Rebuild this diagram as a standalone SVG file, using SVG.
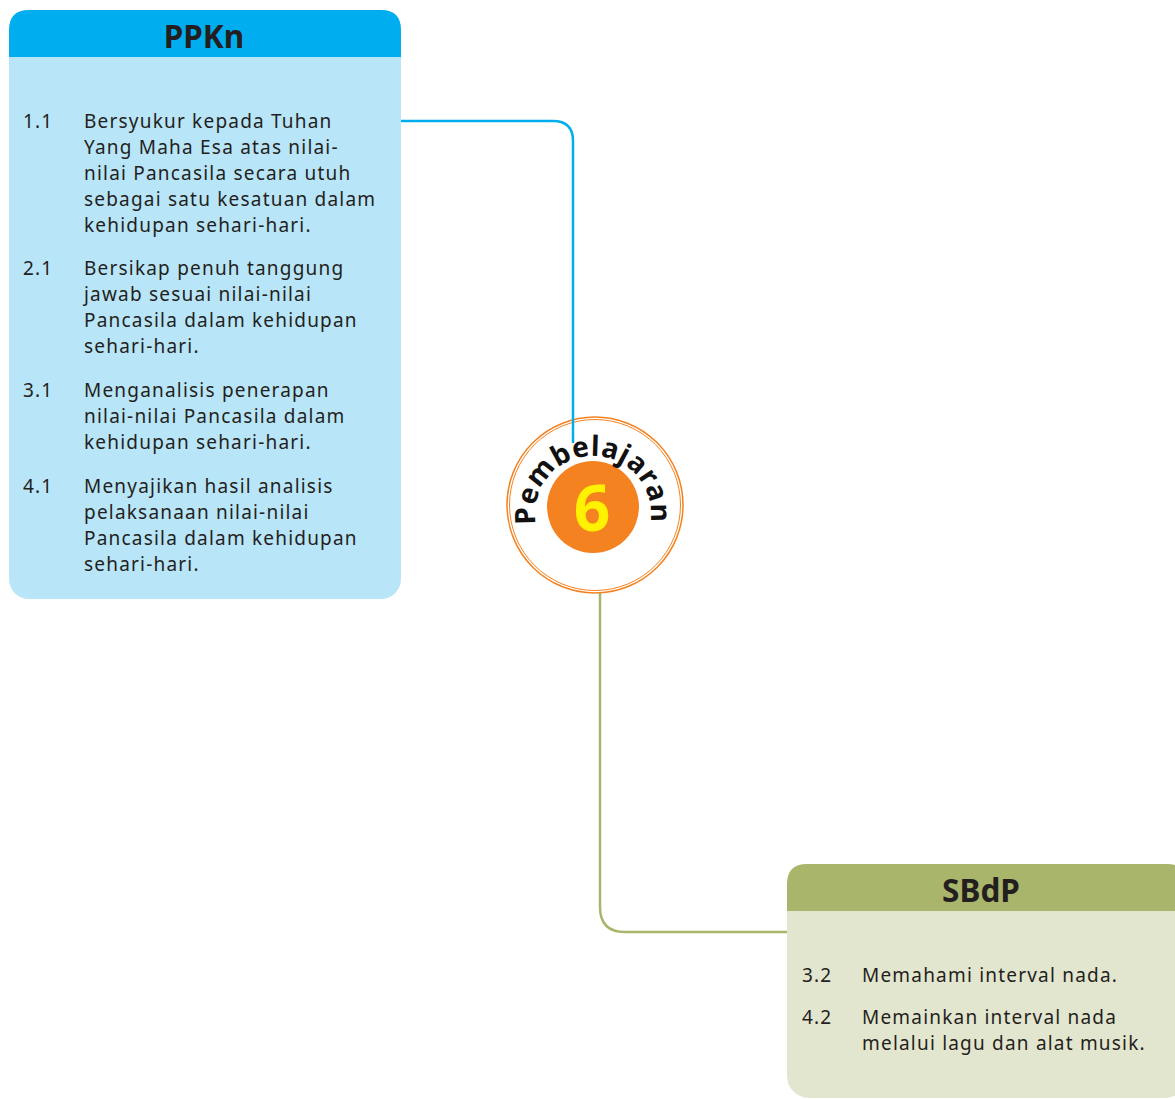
<svg xmlns="http://www.w3.org/2000/svg" width="1175" height="1099" viewBox="0 0 1175 1099">
<style>
.t{font-family:"Noto Sans","Open Sans",sans-serif;font-size:19px;letter-spacing:1.2px;fill:#231f20}
.h{font-family:"Noto Sans","Open Sans",sans-serif;font-size:31.5px;font-weight:bold;fill:#231f20;text-anchor:middle}
.c{fill:none;stroke-width:2.5}
</style>
<defs>
<path id="arc" d="M535.9,524.1 A58,58 0 1 1 650.1,524.1"/>
</defs>
<rect width="1175" height="1099" fill="#fff"/>
<g id="ppkn">
<rect x="9" y="10" width="392" height="589" rx="20" fill="#b9e5f8"/>
<path d="M9,57 V30 Q9,10 29,10 H381 Q401,10 401,30 V57 Z" fill="#00aeef"/>
<text class="h" x="204" y="48">PPKn</text>
<text class="t" x="23" y="128">1.1</text>
<text class="t" x="84" y="128">Bersyukur kepada Tuhan</text>
<text class="t" x="84" y="154">Yang Maha Esa atas nilai-</text>
<text class="t" x="84" y="180">nilai Pancasila secara utuh</text>
<text class="t" x="84" y="206">sebagai satu kesatuan dalam</text>
<text class="t" x="84" y="232">kehidupan sehari-hari.</text>
<text class="t" x="23" y="275">2.1</text>
<text class="t" x="84" y="275">Bersikap penuh tanggung</text>
<text class="t" x="84" y="301">jawab sesuai nilai-nilai</text>
<text class="t" x="84" y="327">Pancasila dalam kehidupan</text>
<text class="t" x="84" y="353">sehari-hari.</text>
<text class="t" x="23" y="397">3.1</text>
<text class="t" x="84" y="397">Menganalisis penerapan</text>
<text class="t" x="84" y="423">nilai-nilai Pancasila dalam</text>
<text class="t" x="84" y="449">kehidupan sehari-hari.</text>
<text class="t" x="23" y="493">4.1</text>
<text class="t" x="84" y="493">Menyajikan hasil analisis</text>
<text class="t" x="84" y="519">pelaksanaan nilai-nilai</text>
<text class="t" x="84" y="545">Pancasila dalam kehidupan</text>
<text class="t" x="84" y="571">sehari-hari.</text>
</g>
<g id="sbdp">
<rect x="787" y="864" width="400" height="234" rx="22" fill="#e3e6cf"/>
<path d="M787,911 V884 Q787,864 807,864 H1167 Q1187,864 1187,884 V911 Z" fill="#a9b56a"/>
<text class="h" x="981" y="902">SBdP</text>
<text class="t" x="802" y="982">3.2</text>
<text class="t" x="862" y="982">Memahami interval nada.</text>
<text class="t" x="802" y="1024">4.2</text>
<text class="t" x="862" y="1024">Memainkan interval nada</text>
<text class="t" x="862" y="1050">melalui lagu dan alat musik.</text>
</g>
<g id="pembelajaran6">
<circle cx="595" cy="505" r="88" fill="#fff" stroke="#f58220" stroke-width="1.5"/>
<circle cx="595" cy="505" r="85.5" fill="none" stroke="#f58220" stroke-width="1"/>
<circle cx="593" cy="507" r="46" fill="#f58220"/>
<text x="592" y="531" font-family="'Noto Sans','Open Sans',sans-serif" font-size="64" font-weight="bold" fill="#fff200" text-anchor="middle">6</text>
<text font-family="'Noto Sans','Open Sans',sans-serif" font-size="28" font-weight="bold" fill="#111"><textPath href="#arc" textLength="200" lengthAdjust="spacing">Pembelajaran</textPath></text>
</g>
<g id="connectors">
<path class="c" stroke="#00aeef" d="M401,121 H553 Q573,121 573,141 V443"/>
<path class="c" stroke="#a9b56a" d="M600,593 V907 Q600,932 625,932 H787"/>
</g>
</svg>
